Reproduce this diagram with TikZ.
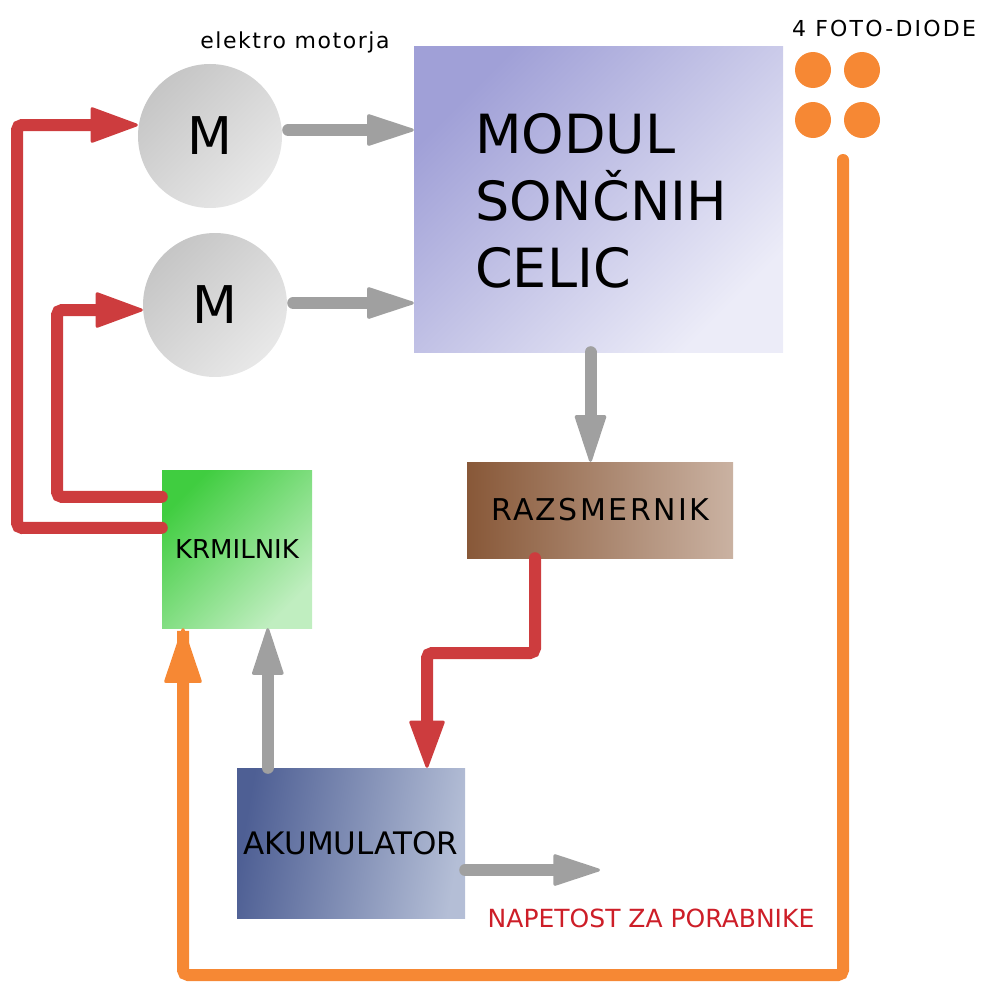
\documentclass[tikz,border=0pt]{standalone}
\usepackage{fontspec}
\setmainfont{DejaVu Sans}
\newfontfamily\widefont[LetterSpace=8]{DejaVu Sans}
\newfontfamily\lblfont[LetterSpace=7]{DejaVu Sans}
\newfontfamily\diofont[LetterSpace=10]{DejaVu Sans}
\usetikzlibrary{arrows.meta,calc}
\definecolor{cred}{RGB}{205,60,62}
\definecolor{cgray}{RGB}{160,160,160}
\definecolor{corange}{RGB}{246,136,52}
\definecolor{ctxtred}{RGB}{205,30,40}
\tikzset{
  conn/.style={line width=12pt, line cap=round, rounded corners=5pt},
  garr/.style={conn, draw=cgray, -{Triangle[length=50pt,width=32pt,round,line width=3pt]}},
  rarr/.style={conn, draw=cred, -{Triangle[length=50pt,width=36pt,round,line width=3pt]}},
  oarr/.style={conn, draw=corange, -{Triangle[length=58pt,width=38pt,round,line width=3pt]}},
  motor/.style={circle, minimum size=144pt, inner sep=0pt, top color=gray!45, bottom color=gray!18, shading angle=45, font=\fontsize{52}{60}\selectfont},
  diode/.style={circle, minimum size=36pt, inner sep=0pt, fill=corange},
  blk/.style={rectangle, inner sep=0pt},
}
\begin{document}
\begin{tikzpicture}[x=1pt,y=1pt]
\useasboundingbox (0,0) rectangle (985,-990);
% blocks
\node[motor] (m1) at (210,-136) {M};
\node[motor] (m2) at (215,-305) {M};
\node[blk, minimum width=369pt, minimum height=305pt, top color={rgb,255:red,160;green,160;blue,215}, bottom color={rgb,255:red,236;green,236;blue,248}, shading angle=45] (mod) at (598.5,-199.5) {};
\node[anchor=base west, align=left, font=\fontsize{54}{67}\selectfont, inner sep=0pt] (modtxt) at (475,-287) {MODUL\\SONČNIH\\CELIC};
\node[blk, minimum width=150pt, minimum height=158pt, top color={rgb,255:red,64;green,205;blue,64}, bottom color={rgb,255:red,192;green,238;blue,192}, shading angle=45, font=\fontsize{26}{30}\selectfont] (krm) at (237,-549) {KRMILNIK};
\node[blk, minimum width=266pt, minimum height=96pt, top color={rgb,255:red,136;green,88;blue,56}, bottom color={rgb,255:red,202;green,178;blue,162}, shading angle=90, font=\widefont\fontsize{30}{34}\selectfont] (raz) at (600,-510) {RAZSMERNIK};
\node[blk, minimum width=228pt, minimum height=150pt, top color={rgb,255:red,78;green,95;blue,148}, bottom color={rgb,255:red,180;green,190;blue,214}, shading angle=80, font=\fontsize{31}{34}\selectfont] (aku) at (351,-843) {AKUMULATOR};
% diodes
\node[diode] (d1) at (813,-70) {};
\node[diode] (d2) at (862,-70) {};
\node[diode] (d3) at (813,-120) {};
\node[diode] (d4) at (862,-120) {};
% labels
\node[font=\lblfont\fontsize{22}{26}\selectfont] (lmot) at (295,-42) {elektro motorja};
\node[font=\diofont\fontsize{22}{26}\selectfont] (ldiode) at (884,-28) {4 FOTO-DIODE};
\node[font=\fontsize{25}{28}\selectfont, text=ctxtred] (lnap) at (651,-918) {NAPETOST ZA PORABNIKE};
\coordinate (load) at (600,-870);
\coordinate (dstart) at (843,-160);
% connectors
\draw[garr] ([shift={(6,6)}]m1.east) -- ([yshift=6]mod.west |- m1.east);
\draw[garr] ([shift={(6,2)}]m2.east) -- ([yshift=2]mod.west |- m2.east);
\draw[rarr] ([yshift=-58]krm.north west) -- (17,-528) -- (17,-125) -- ([yshift=11]m1.west);
\draw[rarr] ([yshift=-27]krm.north west) -- (57,-497) -- (57,-310) -- ([yshift=-5]m2.west);
\draw[garr] ([xshift=-8]mod.south) -- ([xshift=-8]mod.south |- raz.north);
\draw[rarr] ([xshift=-65]raz.south) -- (535,-653) -- (427,-653) -- ([xshift=76]aku.north);
\draw[garr] ([xshift=31]aku.north west) -- ([xshift=31]aku.north west |- krm.south);
\draw[garr] ([yshift=-27]aku.east) -- (load);
\draw[oarr] (dstart) -- (843,-975) -- (183,-975) -- (183,-628) -- ([xshift=-54]krm.south);
\end{tikzpicture}
\end{document}
